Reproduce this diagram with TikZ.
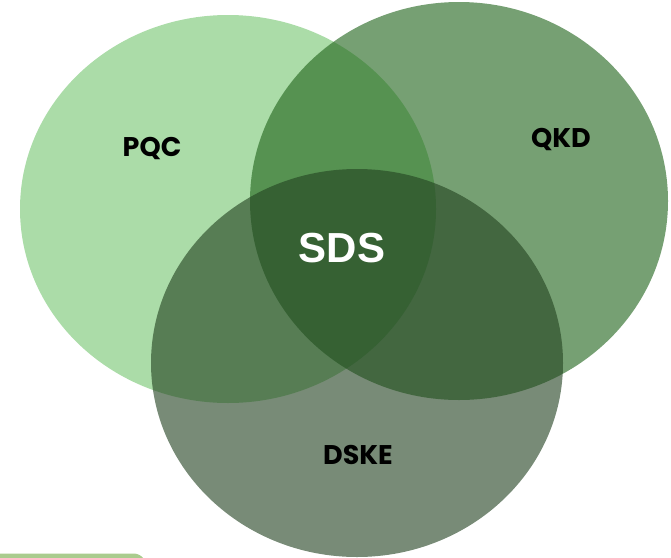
\documentclass[tikz,border=0pt]{standalone}
\usepackage{fontspec}
\setmainfont{Poppins}
\newfontfamily\sdsfont{Liberation Sans}
\definecolor{pqcc}{RGB}{171,220,168}
\definecolor{qkdc}{RGB}{34,102,29}
\definecolor{dskec}{RGB}{34,66,32}
\definecolor{stripc}{RGB}{170,204,142}
\tikzset{
  setlabel/.style={font=\fontsize{27}{27}\selectfont\bfseries, text=black, inner sep=0pt},
}
\begin{document}
\begin{tikzpicture}[x=1pt,y=-1pt]
\useasboundingbox (0,0) rectangle (671,557);
\begin{scope}
\clip (0,0) rectangle (671,557);
\fill[stripc] (-20,553.5) [rounded corners=6pt] -- (140,553.5) -- (152,570) -- (-20,570) -- cycle;
\fill[pqcc] (228,209) ellipse [x radius=208, y radius=194];
\fill[qkdc, opacity=0.62] (459,201) ellipse [x radius=209, y radius=199];
\fill[dskec, opacity=0.61] (357,363) ellipse [x radius=206, y radius=194];
\end{scope}
\node[setlabel] (pqc) at (152,149) {PQC};
\node[setlabel] (qkd) at (561,140) {QKD};
\node[setlabel] (dske) at (358,455) {DSKE};
\node[font=\sdsfont\fontsize{42}{42}\selectfont\bfseries, text=white, inner sep=0pt] (sds) at (342,248) {SDS};
\end{tikzpicture}
\end{document}
